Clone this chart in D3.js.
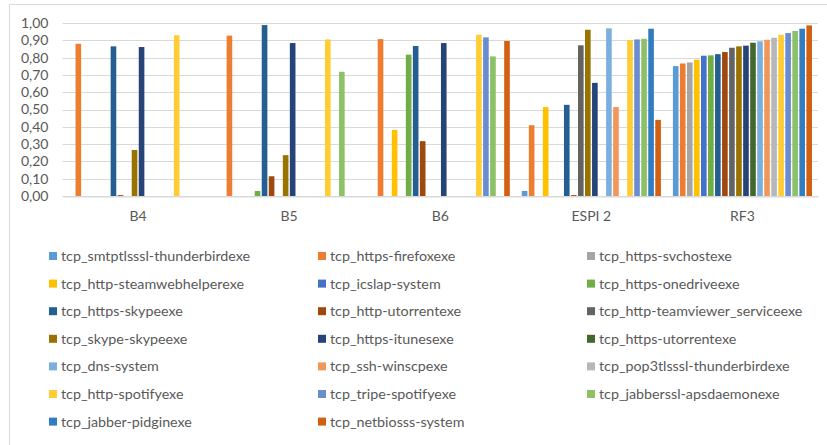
<!DOCTYPE html>
<html>
<head>
<meta charset="utf-8">
<script src="https://cdn.jsdelivr.net/npm/d3@7"></script>
<style>
  body { margin: 0; background: #fff; }
  svg { display: block; font-family: Lato, "Open Sans", sans-serif; }
</style>
</head>
<body>
<script>
let width = 827;
let height = 445;

let marginLeft = 62.5;
let plotRight = 818;
let plotTop = 23;
let plotBottom = 196;

const categories = ["B4", "B5", "B6", "ESPI 2", "RF3"];

const seriesNames = [
  "tcp_smtptlsssl-thunderbirdexe", "tcp_https-firefoxexe", "tcp_https-svchostexe",
  "tcp_http-steamwebhelperexe", "tcp_icslap-system", "tcp_https-onedriveexe",
  "tcp_https-skypeexe", "tcp_http-utorrentexe", "tcp_http-teamviewer_serviceexe",
  "tcp_skype-skypeexe", "tcp_https-itunesexe", "tcp_https-utorrentexe",
  "tcp_dns-system", "tcp_ssh-winscpexe", "tcp_pop3tlsssl-thunderbirdexe",
  "tcp_http-spotifyexe", "tcp_tripe-spotifyexe", "tcp_jabberssl-apsdaemonexe",
  "tcp_jabber-pidginexe", "tcp_netbiosss-system"
];

// one value per series, same order as seriesNames
const b4    = [0, 0.880, 0, 0, 0, 0, 0.865, 0.005, 0, 0.266, 0.861, 0, 0, 0, 0, 0.929, 0, 0, 0, 0];
const b5    = [0, 0.927, 0, 0, 0, 0.029, 0.988, 0.114, 0, 0.236, 0.884, 0, 0, 0, 0, 0.905, 0, 0.718, 0, 0];
const b6    = [0, 0.907, 0, 0.382, 0, 0.817, 0.867, 0.317, 0, 0, 0.884, 0, 0, 0, 0, 0.932, 0.917, 0.807, 0, 0.896];
const espi2 = [0.029, 0.409, 0, 0.514, 0, 0, 0.527, 0.005, 0.871, 0.961, 0.654, 0, 0.969, 0.514, 0, 0.902, 0.905, 0.909, 0.967, 0.440];
const rf3   = [0.751, 0.766, 0.772, 0.788, 0.811, 0.813, 0.820, 0.832, 0.857, 0.865, 0.869, 0.886, 0.894, 0.903, 0.915, 0.932, 0.942, 0.954, 0.967, 0.986];

const yTicks = [0, 0.1, 0.2, 0.3, 0.4, 0.5, 0.6, 0.7, 0.8, 0.9, 1.0];

const colors = [
  "#5B9BD5", "#ED7D31", "#A5A5A5", "#FFC000", "#4472C4", "#70AD47",
  "#255E91", "#9E480E", "#636363", "#997300", "#264478", "#43682B",
  "#7CAFDD", "#F1975A", "#B7B7B7", "#FFCD33", "#698ED0", "#8CC168",
  "#327DC2", "#D26012"
];

const valuesByCat = [b4, b5, b6, espi2, rf3];

let svg = d3.select("body").append("svg")
  .attr("width", width)
  .attr("height", height);

// chart frame (top and left edge visible)
svg.append("path")
  .attr("d", `M9.5,${height} V4.5 H${width}`)
  .attr("fill", "none")
  .attr("stroke", "#d9d9d9")
  .attr("stroke-width", 1);

let scaleX = d3.scaleBand()
  .domain(categories)
  .range([marginLeft, plotRight]);

let scaleSeries = d3.scaleBand()
  .domain(d3.range(seriesNames.length))
  .range([6, scaleX.bandwidth() - 6])
  .paddingInner(0.2);

let scaleY = d3.scaleLinear()
  .domain([0, 1])
  .range([plotBottom, plotTop]);

const fmt = d3.formatLocale({ decimal: ",", thousands: ".", grouping: [3], currency: ["", ""] }).format(".2f");

// grid lines
svg.append("g")
  .selectAll("line")
  .data(yTicks)
  .join("line")
  .attr("x1", marginLeft)
  .attr("x2", plotRight)
  .attr("y1", d => Math.round(scaleY(d)) + 0.5)
  .attr("y2", d => Math.round(scaleY(d)) + 0.5)
  .attr("stroke", "#d9d9d9")
  .attr("stroke-width", 1);

// y labels
let axisY = d3.axisLeft(scaleY).tickValues(yTicks).tickFormat(fmt).tickSize(0).tickPadding(14);
let gy = svg.append("g")
  .attr("transform", `translate(${marginLeft}, 0)`)
  .call(axisY);
gy.select(".domain").remove();
gy.selectAll("text")
  .attr("fill", "#595959")
  .style("font-size", "14px")
  .style("font-family", "Lato, sans-serif");

// bars
let groups = svg.append("g")
  .selectAll("g")
  .data(categories)
  .join("g")
  .attr("transform", d => `translate(${scaleX(d)}, 0)`);

groups.selectAll("rect")
  .data((d, ci) => valuesByCat[ci].map((v, si) => ({ v, si })))
  .join("rect")
  .filter(d => d.v > 0)
  .attr("x", d => scaleSeries(d.si))
  .attr("width", scaleSeries.bandwidth())
  .attr("y", d => scaleY(d.v))
  .attr("height", d => scaleY(0) - scaleY(d.v))
  .attr("fill", d => colors[d.si]);

// x axis
let axisX = d3.axisBottom(scaleX).tickSize(0).tickPadding(15);
let gx = svg.append("g")
  .attr("transform", `translate(0, ${Math.round(scaleY(0)) + 0.5})`)
  .call(axisX);
gx.select(".domain").attr("stroke", "#d9d9d9");
gx.selectAll("text")
  .attr("fill", "#595959")
  .style("font-size", "14px")
  .style("font-family", "Lato, sans-serif");

// legend, 3 columns, row-major
const legendCols = [49, 318, 587];
const legendRow0 = 256;
const legendRowStep = 27.6;

let legend = svg.append("g")
  .selectAll("g")
  .data(seriesNames)
  .join("g")
  .attr("transform", (d, i) => `translate(${legendCols[i % 3]}, ${legendRow0 + Math.floor(i / 3) * legendRowStep})`);

legend.append("rect")
  .attr("x", 0)
  .attr("y", -4)
  .attr("width", 8)
  .attr("height", 8)
  .attr("fill", (d, i) => colors[i]);

legend.append("text")
  .attr("x", 12)
  .attr("y", 0)
  .attr("dy", "0.35em")
  .attr("fill", "#595959")
  .style("font-size", "14.3px")
  .text(d => d);
</script>
</body>
</html>
